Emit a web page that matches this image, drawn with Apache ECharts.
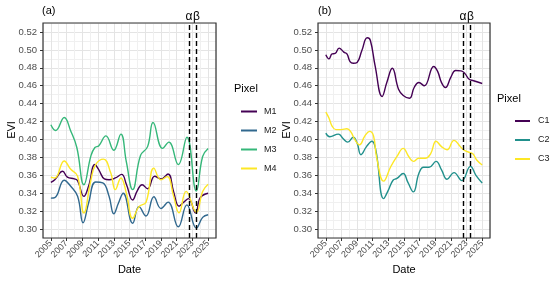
<!DOCTYPE html>
<html><head><meta charset="utf-8">
<script src="https://cdn.jsdelivr.net/npm/echarts@6/dist/echarts.min.js"></script>
<style>html,body{margin:0;padding:0;background:#fff}#c{width:550px;height:281px}</style>
</head><body><div id="c"></div>
<script>
// ---- tick labels ----
const yearTicks = [2005, 2007, 2009, 2011, 2013, 2015, 2017, 2019, 2021, 2023, 2025];
const eviTicks = [0.30, 0.32, 0.34, 0.36, 0.38, 0.40, 0.42, 0.44, 0.46, 0.48, 0.50, 0.52];
// ---- event lines ----
const markYears = [2022.55, 2023.5];
const markNames = ['α', 'β'];
// ---- panel (a) ----
const m1Years = [2005.0,2005.5,2006.5,2007.1,2008.0,2008.4,2009.2,2009.8,2010.6,2011.1,2011.8,2012.4,2013.2,2014.0,2014.6,2015.4,2016.0,2016.6,2017.3,2018.2,2019.0,2019.9,2020.6,2021.3,2021.9,2022.5,2023.4,2024.0,2025.0];
const m1Vals  = [0.352,0.355,0.3645,0.358,0.356,0.354,0.3365,0.348,0.372,0.366,0.356,0.355,0.357,0.361,0.350,0.3325,0.343,0.3495,0.345,0.359,0.356,0.3615,0.342,0.3255,0.330,0.334,0.318,0.335,0.340];
const m2Years = [2005.0,2005.5,2006.7,2007.5,2008.4,2009.1,2009.8,2010.7,2011.6,2012.4,2013.0,2013.6,2014.2,2015.4,2016.2,2017.1,2018.1,2019.0,2019.9,2021.2,2022.3,2023.5,2024.3,2025.0];
const m2Vals  = [0.3345,0.335,0.3545,0.348,0.3365,0.307,0.329,0.3525,0.3515,0.3365,0.317,0.329,0.340,0.3065,0.325,0.3145,0.336,0.323,0.330,0.3025,0.327,0.301,0.313,0.316];
const m3Years = [2005.0,2005.6,2006.7,2007.5,2008.3,2009.2,2010.1,2010.6,2011.1,2012.0,2013.0,2013.9,2014.6,2015.4,2016.4,2017.3,2018.0,2019.2,2020.0,2021.2,2022.3,2023.5,2024.3,2025.0];
const m3Vals  = [0.4165,0.410,0.4245,0.410,0.391,0.3495,0.382,0.391,0.393,0.404,0.388,0.406,0.375,0.344,0.382,0.392,0.419,0.390,0.397,0.372,0.4025,0.3425,0.381,0.390];
const m4Years = [2005.0,2005.5,2006.7,2007.5,2008.4,2009.2,2010.1,2010.7,2011.7,2012.6,2013.2,2013.9,2014.6,2015.4,2016.2,2017.1,2018.1,2019.0,2019.8,2020.6,2021.3,2022.2,2023.5,2024.3,2025.0];
const m4Vals  = [0.358,0.357,0.376,0.367,0.359,0.318,0.355,0.372,0.378,0.363,0.344,0.357,0.340,0.312,0.325,0.330,0.368,0.355,0.3585,0.337,0.318,0.342,0.3185,0.342,0.350];
// ---- panel (b) ----
const c1Years = [2005.0,2005.4,2005.8,2006.2,2006.7,2007.3,2007.7,2008.1,2008.5,2009.0,2009.6,2010.3,2010.7,2011.3,2012.2,2012.8,2013.5,2014.3,2014.9,2015.7,2016.3,2016.9,2017.6,2018.8,2019.3,2019.8,2020.3,2021.0,2021.6,2022.3,2022.8,2023.3,2023.9,2025.0];
const c1Vals  = [0.4945,0.490,0.4955,0.496,0.502,0.4975,0.4955,0.487,0.485,0.486,0.499,0.5135,0.5105,0.4825,0.448,0.4635,0.4795,0.456,0.449,0.446,0.458,0.4635,0.460,0.4815,0.476,0.4635,0.458,0.4695,0.477,0.4765,0.4735,0.4675,0.4655,0.4625];
const c2Years = [2005.0,2005.5,2006.6,2007.2,2007.8,2008.5,2009.0,2009.5,2010.2,2010.9,2011.4,2012.4,2013.0,2013.6,2014.1,2014.9,2015.5,2016.2,2016.9,2017.5,2018.2,2019.1,2019.8,2020.5,2021.4,2022.4,2023.5,2024.2,2025.0];
const c2Vals  = [0.407,0.403,0.406,0.401,0.397,0.4025,0.396,0.383,0.392,0.398,0.388,0.334,0.3435,0.3545,0.3565,0.362,0.352,0.3415,0.362,0.369,0.369,0.3755,0.366,0.3555,0.363,0.354,0.370,0.360,0.3515];
const c3Years = [2005.0,2005.4,2005.8,2006.3,2007.0,2007.7,2008.2,2008.7,2009.3,2010.0,2010.6,2011.1,2011.5,2012.4,2013.3,2014.1,2014.9,2015.6,2016.2,2016.9,2017.7,2018.4,2019.1,2019.8,2020.5,2021.4,2022.2,2022.6,2023.2,2023.8,2024.3,2025.0];
const c3Vals  = [0.4305,0.424,0.415,0.411,0.411,0.412,0.4085,0.400,0.394,0.404,0.409,0.404,0.380,0.3535,0.3695,0.381,0.390,0.381,0.3755,0.379,0.379,0.384,0.398,0.392,0.3885,0.399,0.392,0.3885,0.386,0.384,0.377,0.3715];

const seriesA = [
  {name:'M1', years:m1Years, vals:m1Vals, color:'#440154'},
  {name:'M2', years:m2Years, vals:m2Vals, color:'#31688E'},
  {name:'M3', years:m3Years, vals:m3Vals, color:'#35B779'},
  {name:'M4', years:m4Years, vals:m4Vals, color:'#FDE725'}
];
const seriesB = [
  {name:'C1', years:c1Years, vals:c1Vals, color:'#440154'},
  {name:'C2', years:c2Years, vals:c2Vals, color:'#21908C'},
  {name:'C3', years:c3Years, vals:c3Vals, color:'#FDE725'}
];

const FONT = 'Liberation Sans, Arial, sans-serif';
const chart = echarts.init(document.getElementById('c'), null, {renderer:'canvas'});

function xAxes(gi){
  return [
    {gridIndex:gi, type:'value', min:2004, max:2026,
     axisLine:{show:false},
     axisTick:{show:true, customValues:yearTicks, length:3, lineStyle:{color:'#333', width:1}},
     axisLabel:{show:true, customValues:yearTicks, rotate:45, fontSize:9, color:'#4d4d4d', fontFamily:FONT, margin:4,
       formatter:v=>String(Math.round(v))},
     splitLine:{show:false}},
    {gridIndex:gi, type:'value', min:2004, max:2026, interval:1,
     axisLine:{show:false}, axisTick:{show:false}, axisLabel:{show:false},
     splitLine:{show:true, lineStyle:{color:['#f0f0f0','#e4e4e4'], width:1}}}
  ];
}
function yAxes(gi){
  return [
    {gridIndex:gi, type:'value', min:0.29, max:0.53,
     axisLine:{show:false},
     axisTick:{show:true, customValues:eviTicks, length:3, lineStyle:{color:'#333', width:1}},
     axisLabel:{show:true, customValues:eviTicks, fontSize:9.5, color:'#4d4d4d', fontFamily:FONT, margin:6,
       formatter:v=>Number(v).toFixed(2)},
     splitLine:{show:false}},
    {gridIndex:gi, type:'value', min:0.29, max:0.53, interval:0.01,
     axisLine:{show:false}, axisTick:{show:false}, axisLabel:{show:false},
     splitLine:{show:true, lineStyle:{color:['#f0f0f0','#e4e4e4'], width:1}}}
  ];
}

function mkMarkLine(){
  return {
    silent:true, symbol:['none','none'],
    lineStyle:{color:'#000', type:[5,3], width:1.4},
    label:{show:true, position:'end', formatter:p=>p.name, color:'#000', fontSize:12, fontFamily:FONT, distance:0},
    data: markYears.map((y,i)=>({name:markNames[i], xAxis:y}))
  };
}

function mkSeries(list, gi, axOff){
  return list.map((s,k)=>{
    const o = {
      name:s.name, type:'line', xAxisIndex:axOff, yAxisIndex:axOff,
      data:s.years.map((y,i)=>[y, s.vals[i]]),
      smooth:0.45, showSymbol:false, symbol:'none',
      color:s.color, lineStyle:{color:s.color, width:1.4}, z:3
    };
    if(k===0){ o.markLine = mkMarkLine(); }
    return o;
  });
}

const option = {
  animation:false,
  backgroundColor:'#fff',
  textStyle:{fontFamily:FONT},
  grid:[
    {left:43, top:23, width:173, height:215, show:true, borderColor:'#333', borderWidth:1.2, backgroundColor:'transparent', z:10},
    {left:318, top:23, width:172, height:215, show:true, borderColor:'#333', borderWidth:1.2, backgroundColor:'transparent', z:10}
  ],
  xAxis:[...xAxes(0), ...xAxes(1)],
  yAxis:[...yAxes(0), ...yAxes(1)],
  legend:[
    {data:seriesA.map(s=>s.name), orient:'vertical', left:236, top:100.5, icon:'rect', itemWidth:16, itemHeight:2, itemGap:7,
     textStyle:{fontSize:9, lineHeight:12, color:'#1a1a1a', fontFamily:FONT, padding:[0,0,0,2]}, selectedMode:false},
    {data:seriesB.map(s=>s.name), orient:'vertical', left:510, top:110, icon:'rect', itemWidth:15, itemHeight:2, itemGap:7,
     textStyle:{fontSize:9, lineHeight:12, color:'#1a1a1a', fontFamily:FONT, padding:[0,0,0,3]}, selectedMode:false}
  ],
  series:[...mkSeries(seriesA,0,0), ...mkSeries(seriesB,1,2)],
  graphic:[
    {type:'text', left:42, top:5, style:{text:'(a)', fontSize:11, fill:'#000', fontFamily:FONT}},
    {type:'text', left:318, top:5, style:{text:'(b)', fontSize:11, fill:'#000', fontFamily:FONT}},
    {type:'text', x:12, y:130, rotation:Math.PI/2, style:{text:'EVI', fontSize:11, fill:'#000', fontFamily:FONT, align:'center', verticalAlign:'middle'}},
    {type:'text', x:287, y:130, rotation:Math.PI/2, style:{text:'EVI', fontSize:11, fill:'#000', fontFamily:FONT, align:'center', verticalAlign:'middle'}},
    {type:'text', x:129.5, y:270, style:{text:'Date', fontSize:11, fill:'#000', fontFamily:FONT, align:'center', verticalAlign:'middle'}},
    {type:'text', x:404, y:270, style:{text:'Date', fontSize:11, fill:'#000', fontFamily:FONT, align:'center', verticalAlign:'middle'}},
    {type:'text', x:234, y:89, style:{text:'Pixel', fontSize:11, fill:'#000', fontFamily:FONT, verticalAlign:'middle'}},
    {type:'text', x:497, y:99, style:{text:'Pixel', fontSize:11, fill:'#000', fontFamily:FONT, verticalAlign:'middle'}}
  ]
};
chart.setOption(option);
</script>
</body></html>
